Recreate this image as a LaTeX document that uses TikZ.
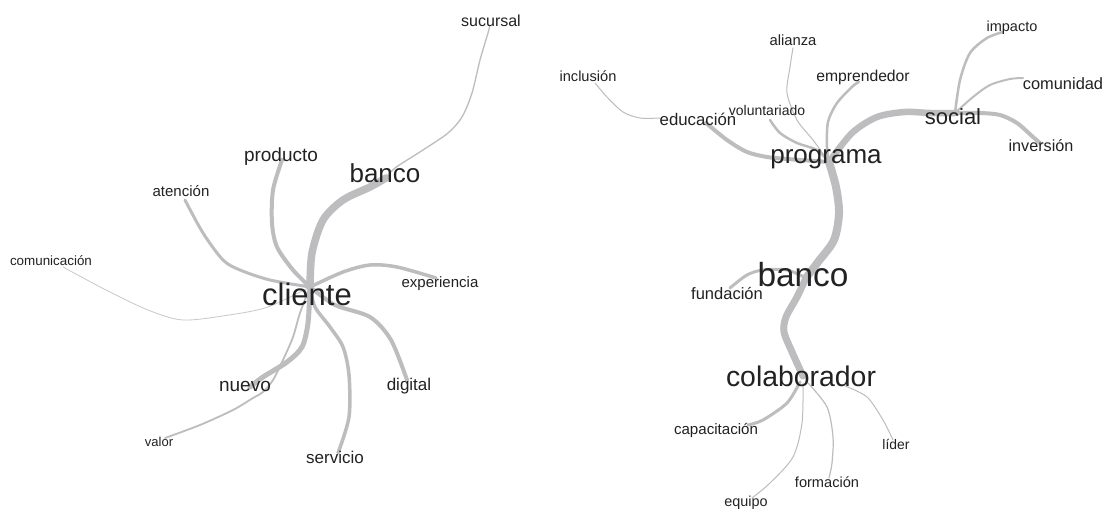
\documentclass[tikz,border=0pt]{standalone}
\usepackage{fontspec}
\setmainfont{Liberation Sans}
\definecolor{edge}{HTML}{BDBDC0}
\definecolor{edgelt}{HTML}{C8C8CA}
\definecolor{txt}{HTML}{222222}
\tikzset{
  lbl/.style={font=\fontsize{#1}{#1}\selectfont, inner sep=0pt, anchor=base, text=txt},
  ed/.style={draw=edge, line width=#1, line cap=round, line join=round},
}
\begin{document}
\begin{tikzpicture}[x=1pt,y=-1pt]
\fill[white] (0,0) rectangle (1104,510);
\useasboundingbox (0,0) rectangle (1104,510);
% ---------- anchor points of connectors (left graph)
\coordinate (hubL) at (310,287);
\coordinate (bancoL-e) at (386,178);
\coordinate (sucursal-e) at (490,25);
\coordinate (producto-e) at (282,160);
\coordinate (atencion-e) at (185,200);
\coordinate (comunicacion-e) at (63,267);
\coordinate (experiencia-e) at (436,278);
\coordinate (digital-e) at (407,380);
\coordinate (servicio-e) at (338,453);
\coordinate (nuevo-e) at (250,387);
\coordinate (valor-e) at (165,438);
% ---------- anchor points (right graph)
\coordinate (hubR) at (829,162);
\coordinate (bancoR-e) at (806,278);
\coordinate (colab-e) at (803,376);
\coordinate (fundacion-e) at (730,288);
\coordinate (capacitacion-e) at (748,425);
\coordinate (equipo-e) at (752,498);
\coordinate (formacion-e) at (829,478);
\coordinate (lider-e) at (893,440);
\coordinate (educacion-e) at (706,123);
\coordinate (inclusion-e) at (595,83);
\coordinate (voluntariado-e) at (770,120);
\coordinate (alianza-e) at (793,48);
\coordinate (emprendedor-e) at (859,82);
\coordinate (social-e) at (955,113);
\coordinate (impacto-e) at (1003,32);
\coordinate (comunidad-e) at (1023,78);
\coordinate (inversion-e) at (1040,143);

% ---------- connectors, left
\draw[ed=1.3] plot[smooth] coordinates {(bancoL-e) (395,168) (423,150) (448,133) (462,117) (472,93) (480,60) (488,33) (sucursal-e)};
\draw[ed=0.8, draw=edgelt] plot[smooth] coordinates {(comunicacion-e) (106,290) (148,310) (183,320) (229,315) (268,307) (hubL)};
\draw[ed=3] plot[smooth] coordinates {(atencion-e) (203,233) (223,260) (240,270) (270,280) (hubL)};
\draw[ed=4] plot[smooth] coordinates {(producto-e) (273,190) (272,223) (277,247) (293,270) (hubL)};
\draw[ed=3.5] plot[smooth] coordinates {(hubL) (343,272) (370,265) (397,267) (experiencia-e)};
\draw[ed=4] plot[smooth] coordinates {(hubL) (335,305) (370,317) (391,340) (digital-e)};
\draw[ed=3.5] plot[smooth] coordinates {(hubL) (315,307) (330,327) (343,347) (349,375) (349,417) (servicio-e)};
\draw[ed=1.8] plot[smooth] coordinates {(hubL) (300,313) (293,337) (283,360) (273,380) (263,392) (253,398) (233,410) (200,425) (valor-e)};
\draw[ed=5] plot[smooth] coordinates {(hubL) (308,323) (302,347) (287,362) (263,377) (nuevo-e)};
\draw[ed=7.5] plot[smooth] coordinates {(hubL) (312,253) (323,220) (343,200) (370,187) (bancoL-e)};

% ---------- connectors, right
\draw[ed=8] plot[smooth] coordinates {(hubR) (836,187) (839,213) (834,240) (818,262) (bancoR-e)};
\draw[ed=7] plot[smooth] coordinates {(bancoR-e) (797,297) (786,317) (784,332) (792,352) (colab-e)};
\draw[ed=3] plot[smooth] coordinates {(fundacion-e) (747,275) (763,270) (787,270) (bancoR-e)};
\draw[ed=3] plot[smooth] coordinates {(800,382) (787,403) (763,420) (capacitacion-e)};
\draw[ed=1] plot[smooth] coordinates {(803,383) (802,423) (793,457) (770,483) (equipo-e)};
\draw[ed=1.2] plot[smooth] coordinates {(808,383) (827,407) (833,437) (832,463) (formacion-e)};
\draw[ed=1] plot[smooth] coordinates {(845,386) (867,397) (883,420) (lider-e)};
\draw[ed=4] plot[smooth] coordinates {(hubR) (787,159) (767,157) (747,152) (727,140) (educacion-e)};
\draw[ed=1] plot[smooth] coordinates {(660,118) (640,118) (623,112) (607,97) (inclusion-e)};
\draw[ed=2.5] plot[smooth] coordinates {(voluntariado-e) (780,133) (797,143) (817,150) (hubR)};
\draw[ed=1] plot[smooth] coordinates {(alianza-e) (790,67) (787,93) (797,120) (813,140) (hubR)};
\draw[ed=2.5] plot[smooth] coordinates {(emprendedor-e) (853,86) (837,103) (828,122) (827,147) (hubR)};
\draw[ed=6.5] plot[smooth] coordinates {(hubR) (852,133) (877,117) (905,112) (930,113) (social-e)};
\draw[ed=2.5] plot[smooth] coordinates {(social-e) (960,80) (970,53) (987,38) (impacto-e)};
\draw[ed=2] plot[smooth] coordinates {(social-e) (973,97) (990,85) (1010,79) (comunidad-e)};
\draw[ed=4] plot[smooth] coordinates {(social-e) (980,113) (1000,115) (1017,123) (1033,137) (inversion-e)};

% ---------- labels, left
\node[lbl=16]   (sucursal)     at (491,27)  {sucursal};
\node[lbl=19]   (producto)     at (281,162) {producto};
\node[lbl=26]   (bancoL)       at (385,183) {banco};
\node[lbl=15]   (atencion)     at (181,196.5) {atención};
\node[lbl=13.4] (comunicacion) at (51,266)  {comunicación};
\node[lbl=15]   (experiencia)  at (440,287.5) {experiencia};
\node[lbl=31]   (cliente)      at (307,306) {cliente};
\node[lbl=19]   (nuevo)        at (245,392) {nuevo};
\node[lbl=17]   (digital)      at (409,391) {digital};
\node[lbl=13]   (valor)        at (159,447) {valor};
\node[lbl=17]   (servicio)     at (335,464) {servicio};
% ---------- labels, right
\node[lbl=14.6] (inclusion)    at (588,82)  {inclusión};
\node[lbl=14.8] (alianza)      at (793,46)  {alianza};
\node[lbl=15.7] (emprendedor)  at (863,82)  {emprendedor};
\node[lbl=14.5] (impacto)      at (1012,32) {impacto};
\node[lbl=16.4] (comunidad)    at (1063,90) {comunidad};
\node[lbl=14]   (voluntariado) at (767,116) {voluntariado};
\node[lbl=16.8] (educacion)    at (698,126) {educación};
\node[lbl=22]   (social)       at (953,124.5) {social};
\node[lbl=26]   (programa)     at (826,164) {programa};
\node[lbl=16.2] (inversion)    at (1041,152) {inversión};
\node[lbl=33.4] (bancoR)       at (803,287) {banco};
\node[lbl=16.5] (fundacion)    at (727,300) {fundación};
\node[lbl=28.4] (colaborador)  at (801,386.5) {colaborador};
\node[lbl=15.1] (capacitacion) at (716,434.5) {capacitación};
\node[lbl=13.9] (lider)        at (896,450) {líder};
\node[lbl=14.6] (formacion)    at (827,488) {formación};
\node[lbl=14.4] (equipo)       at (746,506.5) {equipo};
\end{tikzpicture}
\end{document}
